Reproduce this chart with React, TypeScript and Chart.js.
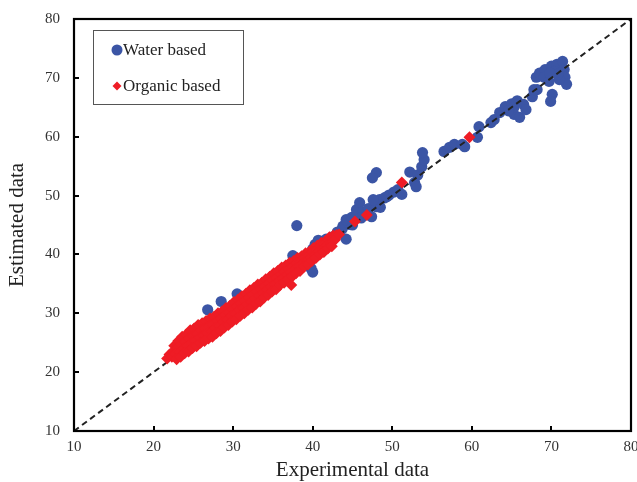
import React, { useEffect, useRef } from "react";
import { Chart, registerables } from "chart.js";

Chart.register(...registerables);

const axisMin = 10;
const axisMax = 80;
const axisStep = 10;
const xTitle = "Experimental data";
const yTitle = "Estimated data";
const seriesNames = ["Water based", "Organic based"];
const blue = "#3B55A5";
const red = "#EE1C25";

// 1:1 parity line
const parityLine: [number, number][] = [[10, 10], [80, 80]];

// Water based (blue circles)
const waterBased: [number, number][] = [
  [26.8, 30.6], [28.5, 32.0], [30.5, 33.3],
  [37.5, 39.8], [37.3, 38.4], [38.0, 44.9], [38.9, 39.4], [39.2, 38.7], [39.8, 37.6], [40.0, 37.0],
  [40.0, 40.9], [40.3, 41.7], [40.7, 42.4], [41.2, 42.1], [41.7, 42.6], [42.1, 41.9], [42.5, 43.0],
  [43.1, 43.8], [43.7, 44.3], [43.8, 44.8], [44.2, 42.6], [44.6, 45.1], [44.2, 45.9], [44.9, 46.3],
  [45.0, 45.0], [45.5, 47.6], [45.9, 48.8], [46.3, 47.2], [46.1, 46.2], [47.0, 47.8], [47.4, 46.4],
  [48.0, 53.9], [47.5, 53.0], [48.0, 48.1], [48.5, 48.0], [48.4, 49.3], [47.6, 49.3], [49.0, 49.6],
  [49.6, 50.1], [49.3, 49.8], [50.2, 50.6], [50.7, 51.0], [51.2, 50.2], [52.8, 52.2], [53.0, 51.5],
  [52.2, 54.0], [53.2, 53.5], [53.7, 54.9], [54.0, 56.1], [53.8, 57.3],
  [56.5, 57.5], [57.2, 58.2], [57.8, 58.7], [58.8, 58.7], [59.1, 58.3], [60.7, 59.9], [60.9, 61.7],
  [62.4, 62.4], [62.8, 62.9], [63.5, 64.1], [64.2, 65.1], [65.0, 65.6], [65.7, 66.1], [66.5, 65.5],
  [65.3, 63.8], [66.0, 63.3], [66.8, 64.6], [65.3, 65.0], [64.6, 64.4], [67.6, 66.8], [68.2, 68.0],
  [67.8, 68.0], [68.1, 70.1], [68.5, 70.8], [69.2, 71.4], [70.0, 72.0], [70.7, 72.3], [71.4, 72.8],
  [69.1, 70.1], [70.4, 71.1], [71.6, 71.4], [71.7, 70.1], [71.9, 68.9], [71.0, 69.7], [69.7, 69.4],
  [70.8, 70.6], [69.8, 70.8], [70.1, 67.2], [69.9, 66.0]
];

// Organic based (red diamonds)
const organicBased: [number, number][] = [
  [22.6, 24.5], [23.1, 25.3], [23.6, 26.0], [24.1, 26.4], [24.6, 27.1], [25.1, 27.4], [25.6, 28.0],
  [26.1, 28.3], [26.6, 28.7], [27.1, 29.1], [27.6, 29.4], [28.1, 30.0], [28.6, 30.3], [29.1, 30.9],
  [29.6, 31.3], [30.1, 31.9], [30.6, 32.3], [31.1, 32.9], [31.6, 33.3], [32.1, 33.9], [32.6, 34.3],
  [33.1, 34.9], [33.6, 35.2], [34.1, 35.8], [34.6, 36.2], [35.1, 36.8], [35.6, 37.2], [36.1, 37.8],
  [36.6, 38.1], [37.1, 38.6], [37.6, 38.9], [38.1, 39.4], [38.6, 39.7], [39.1, 40.2], [39.6, 40.5],
  [40.1, 41.1], [40.6, 41.5], [41.1, 42.0], [41.6, 42.3], [42.1, 42.9], [42.6, 43.2],
  [22.0, 23.0], [22.5, 23.6], [23.0, 24.1], [23.5, 24.7], [24.0, 25.1], [24.5, 25.7], [25.0, 26.2],
  [25.5, 26.5], [26.0, 27.1], [26.5, 27.4], [27.0, 27.8], [27.5, 28.1], [28.0, 28.7], [28.5, 29.1],
  [29.0, 29.7], [29.5, 30.1], [30.0, 30.7], [30.5, 31.1], [31.0, 31.7], [31.5, 32.1], [32.0, 32.7],
  [32.5, 33.1], [33.0, 33.7], [33.5, 34.0], [34.0, 34.6], [34.5, 35.0], [35.0, 35.6], [35.5, 36.0],
  [36.0, 36.6], [36.5, 37.0], [37.0, 37.5], [37.5, 37.9], [38.0, 38.5], [38.5, 38.8], [39.0, 39.4],
  [39.5, 39.8], [40.0, 40.4], [40.5, 40.8], [41.0, 41.4], [41.5, 41.8], [42.0, 42.4], [42.5, 42.7],
  [43.0, 43.3],
  [21.7, 22.3], [22.3, 22.6], [22.8, 23.1], [23.3, 23.4], [23.8, 24.0], [24.3, 24.4], [24.8, 25.0],
  [25.3, 25.3], [25.8, 25.9], [26.3, 26.2], [26.8, 26.6], [27.3, 26.9], [27.8, 27.5], [28.3, 27.9],
  [28.8, 28.5], [29.3, 28.9], [29.8, 29.5], [30.3, 29.9], [30.8, 30.5], [31.3, 30.9], [31.8, 31.5],
  [32.3, 31.9], [32.8, 32.5], [33.3, 32.9], [33.8, 33.5], [34.3, 33.9], [34.8, 34.5], [35.3, 34.9],
  [35.8, 35.5], [36.3, 35.9], [36.8, 36.5], [37.3, 36.9], [37.8, 37.5], [38.3, 37.9], [38.8, 38.5],
  [39.3, 38.9], [39.8, 39.5], [40.3, 39.9], [40.8, 40.5], [41.3, 40.9], [41.8, 41.5], [42.3, 41.9],
  [42.8, 42.5],
  [22.9, 22.2], [23.4, 22.6], [23.9, 23.2], [24.4, 23.5], [24.9, 24.1], [25.4, 24.4], [25.9, 25.0],
  [26.4, 25.3], [26.9, 25.7], [27.4, 26.0], [27.9, 26.6], [28.4, 27.0], [28.9, 27.6], [29.4, 28.0],
  [29.9, 28.6], [30.4, 29.0], [30.9, 29.6], [31.4, 30.0], [31.9, 30.6], [32.4, 31.0], [32.9, 31.6],
  [33.4, 32.0], [33.9, 32.7], [34.4, 33.1], [34.9, 33.7], [35.4, 34.1], [35.9, 34.8], [36.4, 35.2],
  [36.9, 35.8], [37.4, 36.2], [37.9, 36.8], [38.4, 37.2], [38.9, 37.9], [39.4, 38.3], [39.9, 38.9],
  [40.4, 39.4], [40.9, 40.0], [41.4, 40.4], [41.9, 41.0], [42.4, 41.4],
  [37.3, 34.8], [43.3, 43.4], [45.3, 45.6], [46.8, 46.7], [51.2, 52.2], [59.7, 59.9]
];

const serif = "'Liberation Serif', 'Times New Roman', serif";

const framePlugin = {
  id: "frameAndLegend",
  afterDraw(chart: any) {
    const { ctx, chartArea: a, scales } = chart;
    ctx.save();
    ctx.strokeStyle = "#000";
    ctx.lineWidth = 2.2;
    ctx.strokeRect(a.left, a.top, a.right - a.left, a.bottom - a.top);
    const tick = 5;
    ctx.lineWidth = 2;
    scales.x.ticks.forEach((t: any) => {
      const px = Math.round(scales.x.getPixelForValue(t.value));
      ctx.beginPath();
      ctx.moveTo(px, a.bottom);
      ctx.lineTo(px, a.bottom - tick);
      ctx.stroke();
    });
    scales.y.ticks.forEach((t: any) => {
      const py = Math.round(scales.y.getPixelForValue(t.value));
      ctx.beginPath();
      ctx.moveTo(a.left, py);
      ctx.lineTo(a.left + tick, py);
      ctx.stroke();
    });
    // legend box
    const lx = a.left + 19;
    const ly = a.top + 11;
    const lw = 150;
    const lh = 74;
    ctx.fillStyle = "#fff";
    ctx.fillRect(lx, ly, lw, lh);
    ctx.strokeStyle = "#555";
    ctx.lineWidth = 1;
    ctx.strokeRect(lx + 0.5, ly + 0.5, lw, lh);
    ctx.font = "17px " + serif;
    ctx.textBaseline = "middle";
    ctx.textAlign = "left";
    const mx = lx + 24;
    const y1 = ly + 20;
    const y2 = ly + 56;
    ctx.fillStyle = blue;
    ctx.beginPath();
    ctx.arc(mx, y1, 5.5, 0, Math.PI * 2);
    ctx.fill();
    ctx.fillStyle = red;
    ctx.beginPath();
    ctx.moveTo(mx, y2 - 4.5);
    ctx.lineTo(mx + 4.5, y2);
    ctx.lineTo(mx, y2 + 4.5);
    ctx.lineTo(mx - 4.5, y2);
    ctx.closePath();
    ctx.fill();
    ctx.fillStyle = "#222";
    ctx.fillText(seriesNames[0], mx + 6, y1 + 1);
    ctx.fillText(seriesNames[1], mx + 6, y2 + 1);
    ctx.restore();
  }
};

export default function App() {
  const ref = useRef<HTMLCanvasElement | null>(null);
  useEffect(() => {
    document.body.style.margin = "0";
    const canvas = ref.current;
    if (!canvas) return;
    const chart = new Chart(canvas, {
      type: "scatter",
      data: {
        datasets: [
          {
            label: seriesNames[0],
            data: waterBased.map(([x, y]) => ({ x, y })),
            backgroundColor: blue,
            borderWidth: 0,
            pointRadius: 5.6,
            pointStyle: "circle",
            order: 3
          },
          {
            type: "line",
            label: "1:1",
            data: parityLine.map(([x, y]) => ({ x, y })),
            borderColor: "#222",
            borderWidth: 2,
            borderDash: [6, 4],
            pointRadius: 0,
            showLine: true,
            fill: false,
            order: 2
          } as any,
          {
            label: seriesNames[1],
            data: organicBased.map(([x, y]) => ({ x, y })),
            backgroundColor: red,
            borderWidth: 0,
            pointRadius: 6,
            pointStyle: "rectRot",
            order: 1
          }
        ]
      },
      options: {
        animation: false,
        responsive: false,
        maintainAspectRatio: false,
        layout: { padding: { top: 19, right: 5, left: 0, bottom: 0 } },
        plugins: { legend: { display: false }, tooltip: { enabled: false } },
        scales: {
          x: {
            type: "linear",
            min: axisMin,
            max: axisMax,
            ticks: { stepSize: axisStep, padding: 7, color: "#333", font: { family: serif, size: 15 } },
            grid: { display: false, drawTicks: false },
            border: { display: false },
            title: { display: true, text: xTitle, color: "#222", font: { family: serif, size: 21 }, padding: { top: 0, bottom: -1 } },
            afterFit: (s: any) => {
              s.height = 51;
              s.paddingLeft = 0;
              s.paddingRight = 0;
            }
          },
          y: {
            type: "linear",
            min: axisMin,
            max: axisMax,
            ticks: { stepSize: axisStep, padding: 14, color: "#333", font: { family: serif, size: 15 } },
            grid: { display: false, drawTicks: false },
            border: { display: false },
            title: { display: true, text: yTitle, color: "#222", font: { family: serif, size: 21 }, padding: { top: 5, bottom: 0 } },
            afterFit: (s: any) => {
              s.width = 74;
              s.paddingTop = 0;
              s.paddingBottom = 0;
            }
          }
        }
      },
      plugins: [framePlugin]
    });
    return () => chart.destroy();
  }, []);
  return <canvas ref={ref} width={637} height={482} style={{ display: "block", width: 637, height: 482 }} />;
}
